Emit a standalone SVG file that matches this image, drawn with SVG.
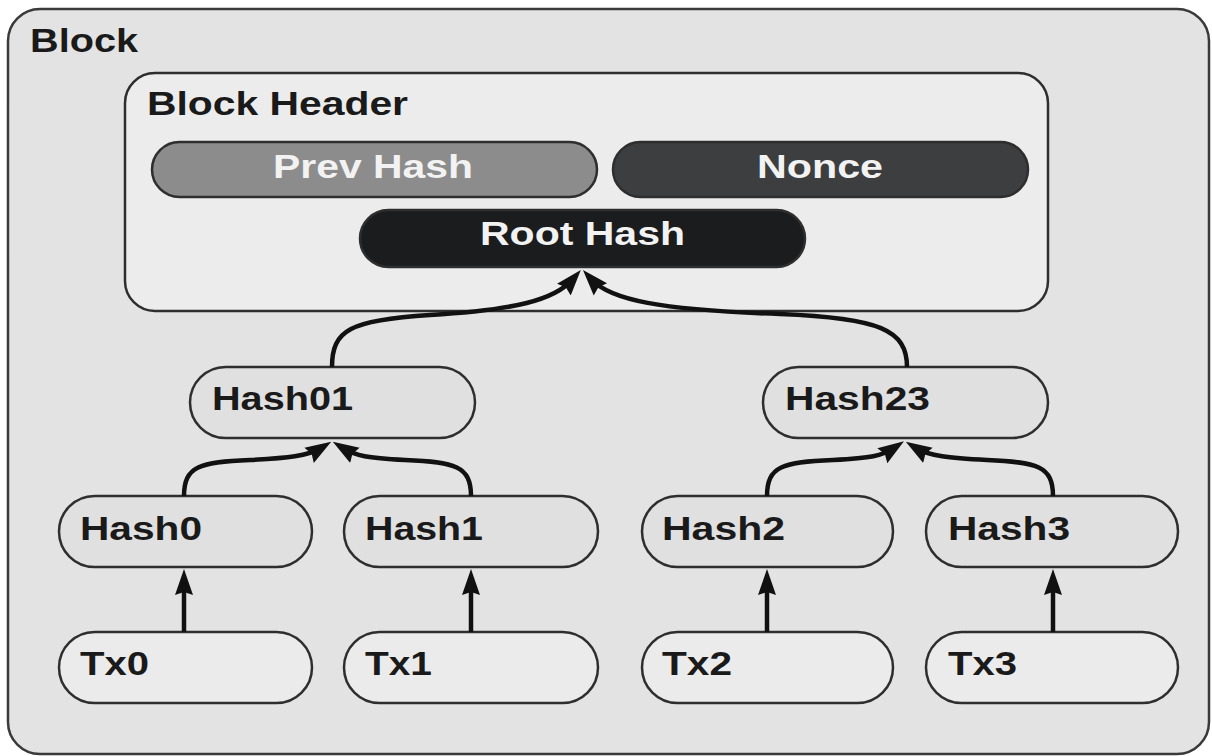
<svg xmlns="http://www.w3.org/2000/svg" width="1212" height="756" viewBox="0 0 1212 756">
<defs>
<style>
.lbl{font-family:"Liberation Sans",Arial,sans-serif;font-weight:bold;font-size:34px;fill:#1a1a1a}
.wl{font-family:"Liberation Sans",Arial,sans-serif;font-weight:bold;font-size:34px;fill:#f2f2f2}
.node{stroke:#2e2e2e;stroke-width:2.5}
.hash{fill:#e0e0e0}
.tx{fill:#ebebeb}
.conn{fill:none;stroke:#111;stroke-width:4.5}
</style>
<marker id="ah" markerUnits="userSpaceOnUse" viewBox="0 0 26 20" markerWidth="26" markerHeight="20" refX="14" refY="10" orient="auto">
<path d="M0,1 L26,10 L0,19 L3,10 z" fill="#111"/>
</marker>
</defs>
<g id="block">
<rect x="8" y="9" width="1201" height="745" rx="32" fill="#e3e3e3" stroke="#3a3a3a" stroke-width="2.5"/>
<text class="lbl" x="30" y="52" font-size="36" textLength="108" lengthAdjust="spacingAndGlyphs">Block</text>
</g>
<g id="block-header">
<rect x="125" y="73" width="923" height="238" rx="30" fill="#ececec" stroke="#2e2e2e" stroke-width="2.5"/>
<text class="lbl" x="147" y="115" textLength="261" lengthAdjust="spacingAndGlyphs">Block Header</text>
</g>
<g id="prev-hash">
<rect class="node" x="152" y="142" width="445" height="55" rx="27.5" fill="#8c8c8c"/>
<text class="wl" x="273" y="178" textLength="200" lengthAdjust="spacingAndGlyphs">Prev Hash</text>
</g>
<g id="nonce">
<rect class="node" x="613" y="142" width="415" height="55" rx="27.5" fill="#3d3e40"/>
<text class="wl" x="757" y="178" textLength="126" lengthAdjust="spacingAndGlyphs">Nonce</text>
</g>
<g id="root-hash">
<rect class="node" x="360" y="210" width="445" height="57" rx="28.5" fill="#1b1c1e"/>
<text class="wl" x="480" y="245" textLength="205" lengthAdjust="spacingAndGlyphs">Root Hash</text>
</g>
<g id="hash01">
<rect class="node hash" x="190" y="367" width="285" height="71" rx="35.5"/>
<text class="lbl" x="212" y="410" textLength="141" lengthAdjust="spacingAndGlyphs">Hash01</text>
</g>
<g id="hash23">
<rect class="node hash" x="763" y="367" width="285" height="71" rx="35.5"/>
<text class="lbl" x="785" y="410" textLength="145" lengthAdjust="spacingAndGlyphs">Hash23</text>
</g>
<g id="hash0">
<rect class="node hash" x="59" y="496" width="253" height="71" rx="35.5"/>
<text class="lbl" x="80" y="540" textLength="122" lengthAdjust="spacingAndGlyphs">Hash0</text>
</g>
<g id="hash1">
<rect class="node hash" x="344" y="496" width="254" height="71" rx="35.5"/>
<text class="lbl" x="365" y="540" textLength="118" lengthAdjust="spacingAndGlyphs">Hash1</text>
</g>
<g id="hash2">
<rect class="node hash" x="642" y="496" width="251" height="71" rx="35.5"/>
<text class="lbl" x="662" y="540" textLength="123" lengthAdjust="spacingAndGlyphs">Hash2</text>
</g>
<g id="hash3">
<rect class="node hash" x="926" y="496" width="252" height="71" rx="35.5"/>
<text class="lbl" x="948" y="540" textLength="122" lengthAdjust="spacingAndGlyphs">Hash3</text>
</g>
<g id="tx0">
<rect class="node tx" x="59" y="632" width="253" height="71" rx="35.5"/>
<text class="lbl" x="80" y="675" textLength="69" lengthAdjust="spacingAndGlyphs">Tx0</text>
</g>
<g id="tx1">
<rect class="node tx" x="344" y="632" width="254" height="71" rx="35.5"/>
<text class="lbl" x="365" y="675" textLength="67" lengthAdjust="spacingAndGlyphs">Tx1</text>
</g>
<g id="tx2">
<rect class="node tx" x="642" y="632" width="251" height="71" rx="35.5"/>
<text class="lbl" x="662" y="675" textLength="70" lengthAdjust="spacingAndGlyphs">Tx2</text>
</g>
<g id="tx3">
<rect class="node tx" x="926" y="632" width="252" height="71" rx="35.5"/>
<text class="lbl" x="948" y="675" textLength="69" lengthAdjust="spacingAndGlyphs">Tx3</text>
</g>
<g id="connectors">
<path class="conn" d="M184,632 L184,581" marker-end="url(#ah)"/>
<path class="conn" d="M471,632 L471,581" marker-end="url(#ah)"/>
<path class="conn" d="M767,632 L767,581" marker-end="url(#ah)"/>
<path class="conn" d="M1053,632 L1053,581" marker-end="url(#ah)"/>
<path class="conn" d="M184,496 C184,466 200,462 250,460 C288,458 308,456 321,448" marker-end="url(#ah)"/>
<path class="conn" d="M471,496 C471,466 455,462 405,460 C367,458 356,456 343,448" marker-end="url(#ah)"/>
<path class="conn" d="M767,496 C767,466 783,462 833,460 C871,458 882,456 894,448" marker-end="url(#ah)"/>
<path class="conn" d="M1053,496 C1053,466 1037,462 987,460 C949,458 929,456 916,448" marker-end="url(#ah)"/>
<path class="conn" d="M332,367 C332,330 350,320 430,315 C515,310 555,300 573,279" marker-end="url(#ah)"/>
<path class="conn" d="M907,367 C907,330 880,318 780,314 C660,310 610,300 591,279" marker-end="url(#ah)"/>
</g>
</svg>
